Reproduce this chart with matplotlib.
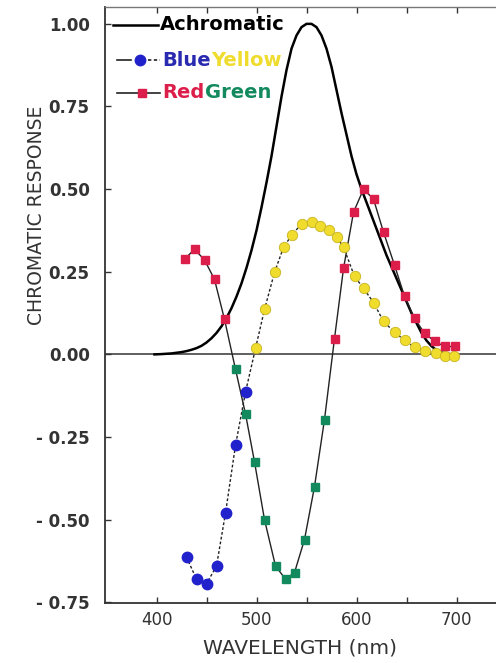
import numpy as np
import matplotlib
matplotlib.use("Agg")
import matplotlib.pyplot as plt

# achromatic curve (wavelength nm, response)
achro_wl = [398, 405, 410, 415, 420, 425, 430, 435, 440, 445, 450, 455, 460, 465,
            470, 475, 480, 485, 490, 495, 500, 505, 510, 515, 520, 525, 530, 535,
            540, 545, 550, 555, 560, 565, 570, 575, 580, 585, 590, 595, 600, 605,
            610, 615, 620, 625, 630, 635, 640, 645, 650, 655, 660, 665, 670, 675,
            680, 685, 690, 695, 700]
achro_val = [0.0, 0.001, 0.002, 0.003, 0.005, 0.007, 0.010, 0.014, 0.019, 0.026,
             0.036, 0.049, 0.065, 0.085, 0.110, 0.140, 0.175, 0.215, 0.262, 0.315,
             0.375, 0.445, 0.52, 0.60, 0.69, 0.78, 0.86, 0.925, 0.965, 0.99, 1.0,
             1.0, 0.99, 0.965, 0.925, 0.87, 0.80, 0.73, 0.665, 0.60, 0.545, 0.50,
             0.46, 0.42, 0.38, 0.34, 0.30, 0.265, 0.23, 0.195, 0.16, 0.125, 0.095,
             0.065, 0.042, 0.025, 0.013, 0.006, 0.002, 0.0, 0.0]

# blue-yellow channel
by_wl = [430, 440, 450, 460, 469, 479, 489, 499, 508, 518, 527, 535, 545, 555,
         563, 572, 580, 587, 598, 607, 617, 627, 638, 648, 658, 668, 679, 688, 697]
by_val = [-0.613, -0.68, -0.694, -0.64, -0.48, -0.275, -0.114, 0.018, 0.136,
          0.248, 0.324, 0.36, 0.395, 0.40, 0.39, 0.375, 0.355, 0.325, 0.236,
          0.20, 0.157, 0.10, 0.067, 0.043, 0.021, 0.01, 0.003, -0.005, -0.005]

# red-green channel
rg_wl = [428, 438, 448, 458, 468, 479, 489, 498, 508, 519, 529, 538, 548, 558,
         568, 578, 587, 597, 607, 617, 627, 638, 648, 658, 668, 678, 688, 698]
rg_val = [0.288, 0.318, 0.286, 0.227, 0.106, -0.045, -0.18, -0.325, -0.50,
          -0.64, -0.68, -0.66, -0.56, -0.40, -0.197, 0.048, 0.26, 0.43, 0.50,
          0.47, 0.37, 0.27, 0.176, 0.109, 0.064, 0.04, 0.024, 0.024]

yticks = [1.0, 0.75, 0.5, 0.25, 0.0, -0.25, -0.5, -0.75]
ytick_labels = ["1.00", "0.75", "0.50", "0.25", "0.00", "- 0.25", "- 0.50", "- 0.75"]
xticks = [400, 500, 600, 700]

BLUE = "#2222cc"
YELLOW = "#f0dc2c"
RED = "#dc1e4a"
GREEN = "#138a5e"
TXT = "#333333"

plt.rcParams["font.family"] = ["DejaVu Sans"]

fig = plt.figure(figsize=(4.96, 6.63), dpi=100)
ax = fig.add_axes([105 / 496, 60 / 663, 401 / 496, 596 / 663])
ax.set_xlim(348.5, 749.5)
ax.set_ylim(-0.752, 1.051)

ax.axhline(0, color="#444444", lw=1.2, zorder=1)

ax.plot(achro_wl, achro_val, color="black", lw=1.8, zorder=2)

by_wl = np.array(by_wl)
by_val = np.array(by_val)
rg_wl = np.array(rg_wl)
rg_val = np.array(rg_val)

ax.plot(by_wl, by_val, color="#222222", lw=1.0, ls=(0, (2.0, 1.5)), zorder=3)
blue = by_wl < 495
ax.plot(by_wl[blue], by_val[blue], ls="none", marker="o", ms=7.5, mfc=BLUE,
        mec=BLUE, zorder=4)
ax.plot(by_wl[~blue], by_val[~blue], ls="none", marker="o", ms=7.5, mfc=YELLOW,
        mec="#c8b420", mew=0.6, zorder=4)

ax.plot(rg_wl, rg_val, color="#222222", lw=1.0, zorder=3)
neg = rg_val < 0
ax.plot(rg_wl[neg], rg_val[neg], ls="none", marker="s", ms=6.2, mfc=GREEN,
        mec=GREEN, zorder=5)
ax.plot(rg_wl[~neg], rg_val[~neg], ls="none", marker="s", ms=6.2, mfc=RED,
        mec=RED, zorder=5)

# axes styling
for s in ["left", "bottom"]:
    ax.spines[s].set_color("#333333")
    ax.spines[s].set_linewidth(1.3)
ax.spines["top"].set_color("#777777")
ax.spines["top"].set_linewidth(1.0)
ax.spines["right"].set_visible(False)

ax.set_xticks(xticks)
ax.set_xticks([450, 550, 650], minor=True)
ax.set_yticks(yticks)
ax.set_yticklabels(ytick_labels, fontweight="bold", fontsize=12, color=TXT)
ax.tick_params(axis="x", which="both", direction="in", top=True, length=4,
               width=1.0, color="#333333", labelsize=12, labelcolor=TXT, pad=6)
ax.tick_params(axis="y", direction="in", length=4, width=1.0, color="#333333",
               pad=11)

ax.set_xlabel("WAVELENGTH (nm)", fontsize=14.5, color=TXT)
ax.xaxis.label.set_va("center")
ax.xaxis.set_label_coords(0.486, -0.0755)
ax.set_ylabel("CHROMATIC RESPONSE", fontsize=13.5, color=TXT)
ax.yaxis.label.set_va("center")
ax.yaxis.set_label_coords(-0.170, 0.651)

# hand-made legend with two-coloured labels
tr = ax.transAxes
ax.plot([0.02, 0.132], [0.970, 0.970], color="black", lw=1.8, transform=tr,
        clip_on=False)
ax.text(0.137, 0.970, "Achromatic", transform=tr, fontsize=14, fontweight="bold",
        color="black", va="center", ha="left")

ax.plot([0.03, 0.066], [0.911, 0.911], color="#222222", lw=1.2, transform=tr)
ax.plot([0.107, 0.137], [0.911, 0.911], color="#222222", lw=1.2,
        ls=(0, (2.0, 1.5)), transform=tr)
ax.plot([0.087], [0.911], marker="o", ms=7.5, color=BLUE, transform=tr)
t1 = ax.text(0.143, 0.911, "Blue", transform=tr, fontsize=14, fontweight="bold",
             color="#2a2ab0", va="center", ha="left")
ax.annotate("Yellow", xy=(1, 0.5), xycoords=t1, fontsize=14, fontweight="bold",
            color=YELLOW, va="center", ha="left")

ax.plot([0.03, 0.137], [0.856, 0.856], color="#222222", lw=1.2, transform=tr)
ax.plot([0.092], [0.856], marker="s", ms=6.2, color=RED, transform=tr)
t2 = ax.text(0.143, 0.856, "Red", transform=tr, fontsize=14, fontweight="bold",
             color=RED, va="center", ha="left")
ax.annotate("Green", xy=(1, 0.5), xycoords=t2, fontsize=14, fontweight="bold",
            color=GREEN, va="center", ha="left")

fig.savefig("out.png", dpi=100)
